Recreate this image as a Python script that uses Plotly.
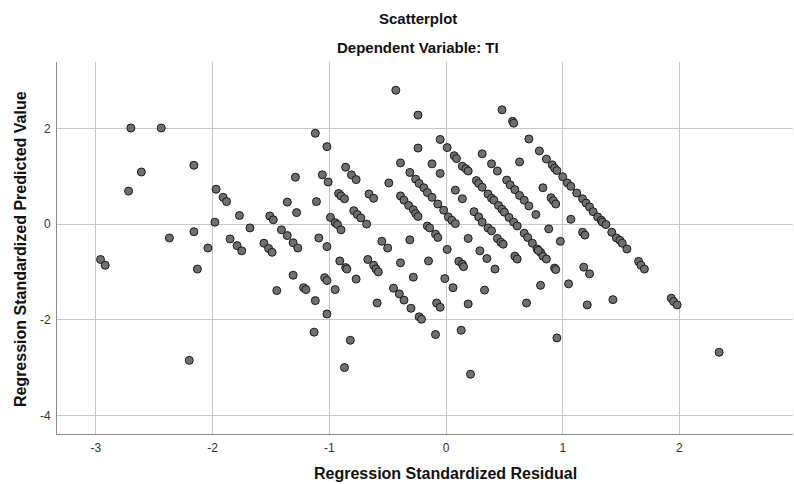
import plotly.graph_objects as go

# Regression standardized residuals (x) and standardized predicted values (y)
residual = [
    -2.70, -2.44, -2.61, -2.16, -2.72, -1.97, -1.91, -1.88, -1.77, -1.98,
    -1.68, -2.37, -2.16, -1.85, -2.04, -1.79, -1.75, -2.96, -2.92, -2.13,
    -2.20,
    -0.43, -0.24, -1.12, -1.02, -0.05, 0.01, -0.24, -0.39, -0.12,
    -0.05, -0.86, -0.81, -0.77, -1.06, -1.01, -1.29, -0.49, -0.31, -0.26,
    -0.23, -0.19, -0.16, -0.12, -0.07, -0.02, 0.02, -0.92, -0.90, -0.87,
    -0.66, -0.62, -1.36, -1.11, -1.28, -0.79, -0.76, -0.73, -0.68, -0.39,
    -0.36, -0.32, -0.28, -0.26, -0.24, -1.51, -1.48, -0.99, -0.95, -0.93,
    -0.90, -1.41, -1.36, -1.31, -1.27, -1.56, -1.52, -1.49, -1.09, -1.02,
    -0.55, -0.50, -0.31, -0.16, -0.14, -0.09, -0.07, 0.01,
    -0.91, -0.86, -0.85, -0.77, -1.31, -1.45, -1.22, -1.20, -1.12, -1.04,
    -1.02, -0.95, -1.02, -1.13, -0.82, -0.87, -0.67, -0.62, -0.60, -0.58,
    -0.39, -0.15, -0.28, -0.45, -0.40, -0.36, -0.30, -0.23, -0.21, -0.59,
    -0.08, -0.05, -0.09, -0.01,
    0.48, 0.57, 0.58, 0.07, 0.09, 0.14, 0.17, 0.19, 0.31, 0.39,
    0.44, 0.63, 0.71, 0.80, 0.86, 0.91, 0.93, 0.95, 1.00, 1.04,
    1.07, 1.12, 1.17, 1.20, 1.23, 1.26, 1.30, 1.33, 1.34, 1.37,
    0.83, 0.90, 0.92, 0.94, 1.07, 0.88, 0.98, 1.17, 1.19, 1.42,
    1.46, 1.49, 1.51, 1.55, 0.26, 0.28, 0.31, 0.36, 0.39, 0.41,
    0.45, 0.48, 0.50, 0.54, 0.58, 0.61, 0.67, 0.70, 0.74, 0.78,
    0.81, 0.83, 0.52, 0.55, 0.59, 0.63, 0.67, 0.71, 0.77, 0.08,
    0.14, 0.05, 0.08, 0.24, 0.28, 0.31, 0.36, 0.39, 0.19, 0.44,
    0.47, 0.49, 0.29, 0.35, 0.59, 0.61,
    0.11, 0.14, 0.15, 0.42, 0.86, 0.79, 0.93, 0.94, 0.06, 0.19,
    0.33, 0.81, 0.69, 0.13, 0.21, 0.95, 1.05, 1.18, 1.23, 1.21,
    1.43, 1.65, 1.67, 1.70, 1.93, 1.95, 1.98, 2.34,
]
predicted = [
    2.01, 2.01, 1.09, 1.23, 0.69, 0.73, 0.56, 0.47, 0.18, 0.04,
    -0.08, -0.29, -0.16, -0.31, -0.50, -0.45, -0.56, -0.74, -0.86, -0.94,
    -2.85,
    2.80, 2.28, 1.90, 1.62, 1.77, 1.60, 1.59, 1.28, 1.26,
    1.06, 1.19, 1.03, 0.93, 1.03, 0.88, 0.98, 0.86, 1.08, 0.94,
    0.85, 0.76, 0.66, 0.56, 0.42, 0.29, 0.15, 0.64, 0.59, 0.53,
    0.63, 0.54, 0.46, 0.47, 0.24, 0.28, 0.20, 0.13, 0.00, 0.59,
    0.50, 0.39, 0.30, 0.22, 0.16, 0.17, 0.09, 0.14, 0.03, -0.01,
    -0.12, -0.12, -0.24, -0.39, -0.50, -0.40, -0.51, -0.59, -0.29, -0.47,
    -0.36, -0.50, -0.33, -0.04, -0.08, -0.21, -0.28, -0.53,
    -0.77, -0.91, -0.94, -1.15, -1.07, -1.39, -1.33, -1.37, -1.60, -1.12,
    -1.18, -1.37, -1.88, -2.26, -2.43, -3.00, -0.74, -0.86, -0.94, -1.00,
    -0.81, -0.77, -1.11, -1.34, -1.46, -1.59, -1.76, -1.94, -1.99, -1.65,
    -1.65, -1.74, -2.31, -1.14,
    2.39, 2.15, 2.11, 1.43, 1.37, 1.21, 1.16, 1.11, 1.47, 1.26,
    1.11, 1.30, 1.78, 1.53, 1.36, 1.24, 1.17, 1.12, 0.99, 0.86,
    0.79, 0.65, 0.53, 0.44, 0.36, 0.26, 0.15, 0.08, 0.04, -0.01,
    0.76, 0.55, 0.49, 0.42, 0.10, -0.10, -0.36, -0.17, -0.23, -0.17,
    -0.29, -0.34, -0.40, -0.52, 0.91, 0.85, 0.77, 0.63, 0.54, 0.50,
    0.39, 0.31, 0.25, 0.14, 0.04, -0.04, -0.19, -0.28, -0.40, -0.52,
    -0.59, -0.67, 0.92, 0.82, 0.72, 0.60, 0.50, 0.38, 0.20, 0.71,
    0.53, 0.08, 0.01, 0.26, 0.15, 0.04, -0.08, -0.14, -0.30, -0.30,
    -0.38, -0.42, -0.56, -0.72, -0.67, -0.73,
    -0.78, -0.84, -0.89, -0.94, -0.73, -0.55, -0.92, -0.95, -1.33, -1.67,
    -1.38, -1.28, -1.65, -2.22, -3.14, -2.38, -1.25, -0.90, -1.04, -1.69,
    -1.58, -0.78, -0.86, -0.94, -1.55, -1.62, -1.69, -2.68,
]

x_ticks = [-3, -2, -1, 0, 1, 2]
x_tick_text = ["-3", "-2", "-1", "0", "1", "2"]
y_ticks = [-4, -2, 0, 2]
y_tick_text = ["-4", "-2", "0", "2"]

FONT = "Liberation Sans, Arial, sans-serif"

fig = go.Figure(
    go.Scatter(
        x=residual,
        y=predicted,
        mode="markers",
        marker=dict(
            size=8,
            color="#6f6f6f",
            line=dict(color="#1a1a1a", width=1),
        ),
        hoverinfo="x+y",
    )
)

axis_common = dict(
    showgrid=True,
    gridcolor="#c8c8c8",
    gridwidth=1,
    zeroline=False,
    showline=True,
    linecolor="#8a8a8a",
    linewidth=1,
    mirror=False,
    ticks="outside",
    ticklen=3,
    tickcolor="rgba(0,0,0,0)",
    tickfont=dict(family=FONT, size=12, color="#333333"),
)

fig.update_xaxes(
    range=[-3.333, 2.973],
    tickvals=x_ticks,
    ticktext=x_tick_text,
    **axis_common,
)
fig.update_yaxes(
    range=[-4.39, 3.39],
    tickvals=y_ticks,
    ticktext=y_tick_text,
    **axis_common,
)

title_font = dict(family=FONT, size=15, color="#111111")
axis_title_font = dict(family=FONT, size=16, color="#111111")

fig.update_layout(
    width=794,
    height=484,
    margin=dict(l=57, r=1, t=62, b=50),
    paper_bgcolor="white",
    plot_bgcolor="white",
    showlegend=False,
    annotations=[
        dict(text="<b>Scatterplot</b>", x=0.490, y=1.118, xref="paper", yref="paper",
             xanchor="center", yanchor="middle", showarrow=False, font=title_font),
        dict(text="<b>Dependent Variable: TI</b>", x=0.490, y=1.040, xref="paper", yref="paper",
             xanchor="center", yanchor="middle", showarrow=False, font=title_font),
        dict(text="<b>Regression Standardized Residual</b>", x=0.5285, y=-0.1075,
             xref="paper", yref="paper", xanchor="center", yanchor="middle",
             showarrow=False, font=axis_title_font),
        dict(text="<b>Regression Standardized Predicted Value</b>", x=-0.0503, y=0.497,
             xref="paper", yref="paper", xanchor="center", yanchor="middle",
             textangle=-90, showarrow=False, font=axis_title_font),
    ],
)

fig.write_html("out.html")
